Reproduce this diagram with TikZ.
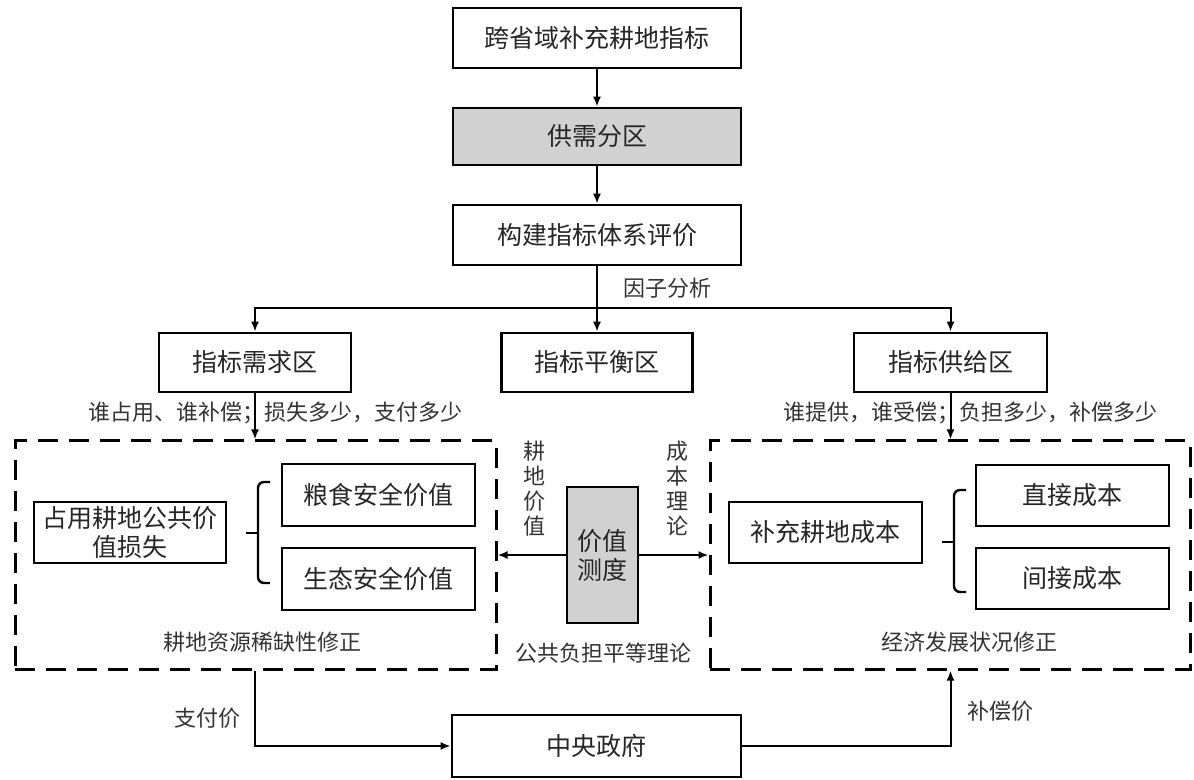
\documentclass[tikz,border=0pt]{standalone}
\usepackage{fontspec}
\setmainfont{Noto Sans CJK SC}
\usetikzlibrary{arrows.meta, calc}
\tikzset{
  boxNode/.style={draw, line width=1.35pt, inner sep=0pt, align=center,
    font=\fontsize{12.5}{14.5}\selectfont, text=black!85},
  grayBox/.style={boxNode, fill=black!18},
  % caixa tracejada das zonas
  zoneBox/.style={draw, line width=1.5pt, dash pattern=on 10pt off 5.5pt},
  labelText/.style={inner sep=0pt, align=center,
    font=\fontsize{11}{12.5}\selectfont, text=black!80},
  flowArrow/.style={-{Latex[length=5pt, width=4pt]}, line width=1pt},
  braceLine/.style={line width=1.2pt, rounded corners=3pt}
}

\begin{document}
\begin{tikzpicture}[x=0.5pt, y=-0.5pt]
  \useasboundingbox (0,0) rectangle (1194,780);

  %% --- PARTE 1: CADEIA SUPERIOR ---
  \node[boxNode, minimum width=144pt, minimum height=30pt] (quota) at (597,38) {跨省域补充耕地指标};
  \node[grayBox, minimum width=144pt, minimum height=28.5pt] (zoning) at (597,136.5) {供需分区};
  \node[boxNode, minimum width=144pt, minimum height=30pt] (build) at (597,235) {构建指标体系评价};

  \draw[flowArrow] (quota) -- (zoning);
  \draw[flowArrow] (zoning) -- (build);

  % Divisao em tres zonas
  \coordinate (split) at (597,308);
  \node[labelText] (factor) at (667,288) {因子分析};

  \node[boxNode, minimum width=96pt, minimum height=29.5pt] (demand) at (255,362.5) {指标需求区};
  \node[boxNode, minimum width=95.5pt, minimum height=29.5pt] (balance) at (597,362.5) {指标平衡区};
  \node[boxNode, minimum width=96.5pt, minimum height=29.5pt] (supply) at (950.5,362.5) {指标供给区};

  \draw[line width=1pt] (build) -- (split);
  \draw[flowArrow] (split) -- (balance);
  \draw[flowArrow] (split) -| (demand);
  \draw[flowArrow] (split) -| (supply);

  %% --- PARTE 2: ZONAS TRACEJADAS ---
  \node[zoneBox, minimum width=240.5pt, minimum height=114pt] (leftzone) at (255.5,555) {};
  \node[zoneBox, minimum width=240pt, minimum height=114pt] (rightzone) at (950,555) {};

  \node[labelText] (whoPay) at (275,413) {谁占用、谁补偿；损失多少，支付多少};
  \node[labelText] (whoGet) at (970,413) {谁提供，谁受偿；负担多少，补偿多少};

  \draw[flowArrow] (demand) -- (demand |- leftzone.north);
  \draw[flowArrow] (supply) -- (supply |- rightzone.north);

  % Lado esquerdo
  \node[boxNode, minimum width=96pt, minimum height=30.5pt] (loss) at (130,532.5) {占用耕地公共价\\值损失};
  \node[boxNode, minimum width=96.5pt, minimum height=31pt] (food) at (378.5,495) {粮食安全价值};
  \node[boxNode, minimum width=96.5pt, minimum height=31pt] (eco) at (378.5,579) {生态安全价值};
  \draw[braceLine] (270,482) -- (258,482) -- (258,583) -- (270,583);
  \draw[line width=1.2pt] (258,533) -- (246,533);
  \node[labelText] (scarcity) at (262,642) {耕地资源稀缺性修正};

  % Lado direito
  \node[boxNode, minimum width=96.5pt, minimum height=30.5pt] (cost) at (825.5,532.5) {补充耕地成本};
  \node[boxNode, minimum width=96.5pt, minimum height=30.5pt] (direct) at (1072.5,495.5) {直接成本};
  \node[boxNode, minimum width=96.5pt, minimum height=30.5pt] (indirect) at (1072.5,578.5) {间接成本};
  \draw[braceLine] (966,490) -- (954,490) -- (954,592) -- (966,592);
  \draw[line width=1.2pt] (954,542) -- (942,542);
  \node[labelText] (economy) at (969,642) {经济发展状况修正};

  % Centro: medida de valor
  \node[grayBox, minimum width=35.5pt, minimum height=68pt] (measure) at (602.5,555) {价值\\测度};
  \node[labelText] (landValue) at (534,489) {耕\\地\\价\\值};
  \node[labelText] (costTheory) at (677,488) {成\\本\\理\\论};
  \node[labelText] (equality) at (603,653) {公共负担平等理论};

  \draw[flowArrow] (measure) -- (leftzone);
  \draw[flowArrow] (measure) -- (rightzone);

  %% --- PARTE 3: GOVERNO CENTRAL ---
  \node[boxNode, minimum width=144.5pt, minimum height=31pt] (gov) at (596.5,746) {中央政府};
  \node[labelText] (payPrice) at (207,718) {支付价};
  \node[labelText] (compPrice) at (1000,711) {补偿价};

  \draw[flowArrow] (leftzone.south -| demand) |- (gov);
  \draw[flowArrow] (gov) -| (rightzone.south -| supply);
\end{tikzpicture}
\end{document}
